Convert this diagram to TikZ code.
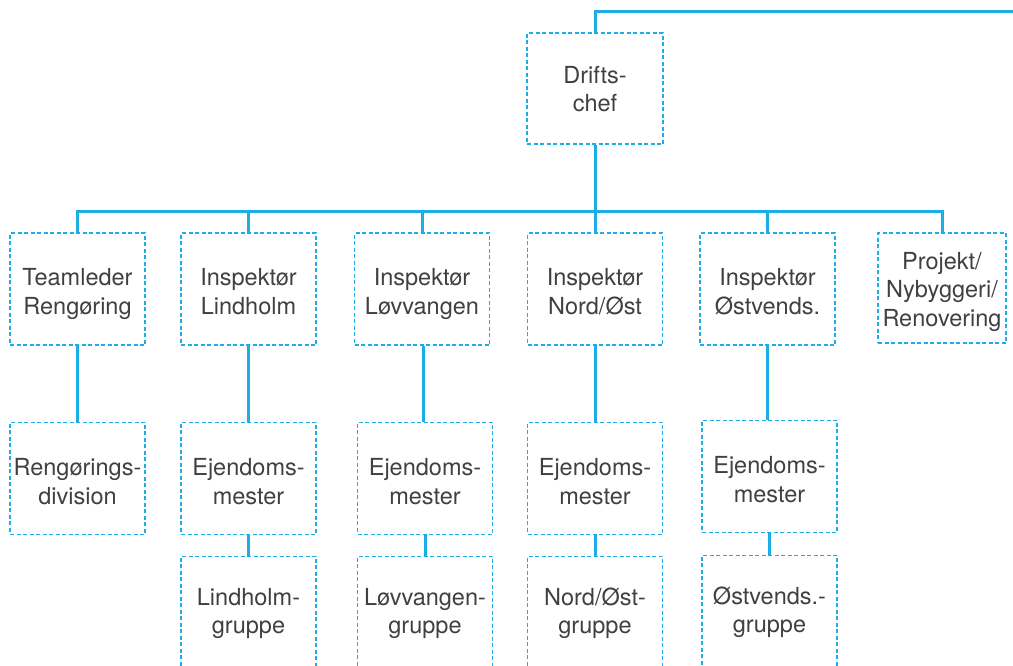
\documentclass[tikz,border=0pt]{standalone}
\usepackage{fontspec}
\setmainfont{TeX Gyre Heros}
\usetikzlibrary{positioning}
\definecolor{orgblue}{RGB}{27,173,228}
\definecolor{ink}{RGB}{64,64,64}
\tikzset{
  unit/.style={draw=orgblue,dash pattern=on 4pt off 2.5pt,line width=1.1pt,
    minimum width=135pt,minimum height=112pt,inner sep=0pt,align=center,
    text=ink,font=\fontsize{23.5}{28.5}\selectfont,
    text height=50pt,text depth=0pt},
  mid/.style={unit,text height=52pt},
  low/.style={unit,text height=43pt},
  link/.style={orgblue,line width=3pt},
}

\begin{document}
\begin{tikzpicture}[x=1pt,y=-1pt,node distance=76pt]
  \clip (0,0) rectangle (1013,665);
  % top
  \node[unit,minimum width=136pt,minimum height=111pt,text height=46pt] (drift) at (595,88.5) {Drifts-\\chef};
  \coordinate (edge) at (1013,11);
  \coordinate (bus) at (595,211);
  % first row
  \node[unit] (team) at (77.5,289) {Teamleder\\Rengøring};
  \node[unit] (lind) at (248.5,289) {Inspektør\\Lindholm};
  \node[unit] (lovv) at (422,289) {Inspektør\\Løvvangen};
  \node[unit] (nord) at (595,289) {Inspektør\\Nord/Øst};
  \node[unit] (ost) at (767.5,289) {Inspektør\\Østvends.};
  \node[unit,minimum width=128pt,minimum height=110pt,text height=76pt] (proj) at (942,288) {Projekt/\\Nybyggeri/\\Renovering};
  % second row
  \node[mid,below=of team] (rdiv) {Rengørings-\\division};
  \node[mid,below=of lind] (lindm) {Ejendoms-\\mester};
  \node[mid,below=of lovv,xshift=3pt] (lovvm) {Ejendoms-\\mester};
  \node[mid,below=of nord] (nordm) {Ejendoms-\\mester};
  \node[mid,below=74pt of ost,xshift=2pt] (ostm) {Ejendoms-\\mester};
  % third row
  \node[low,below=21pt of lindm] (lindg) {Lindholm-\\gruppe};
  \node[low,below=21pt of lovvm] (lovvg) {Løvvangen-\\gruppe};
  \node[low,below=21pt of nordm] (nordg) {Nord/Øst-\\gruppe};
  \node[low,below=22pt of ostm] (ostg) {Østvends.-\\gruppe};
  % connectors
  \draw[link] (drift.north) |- (edge);
  \draw[link] (drift.south) -- (bus);
  \foreach \n in {team,lind,lovv,nord,ost,proj}
    \draw[link] (\n.north) |- (bus);
  \draw[link] (team.south) -- (rdiv.north);
  \foreach \a/\b in {lind/lindm,nord/nordm}
    \draw[link] (\a.south) -- (\b.north);
  \draw[link] ([xshift=1pt]lovv.south) -- ([xshift=-2pt]lovvm.north);
  \draw[link] (ost.south) -- (ost.south |- ostm.north);
  \foreach \a/\b in {lindm/lindg,lovvm/lovvg,nordm/nordg,ostm/ostg}
    \draw[link] (\a.south) -- (\b.north);
\end{tikzpicture}
\end{document}
